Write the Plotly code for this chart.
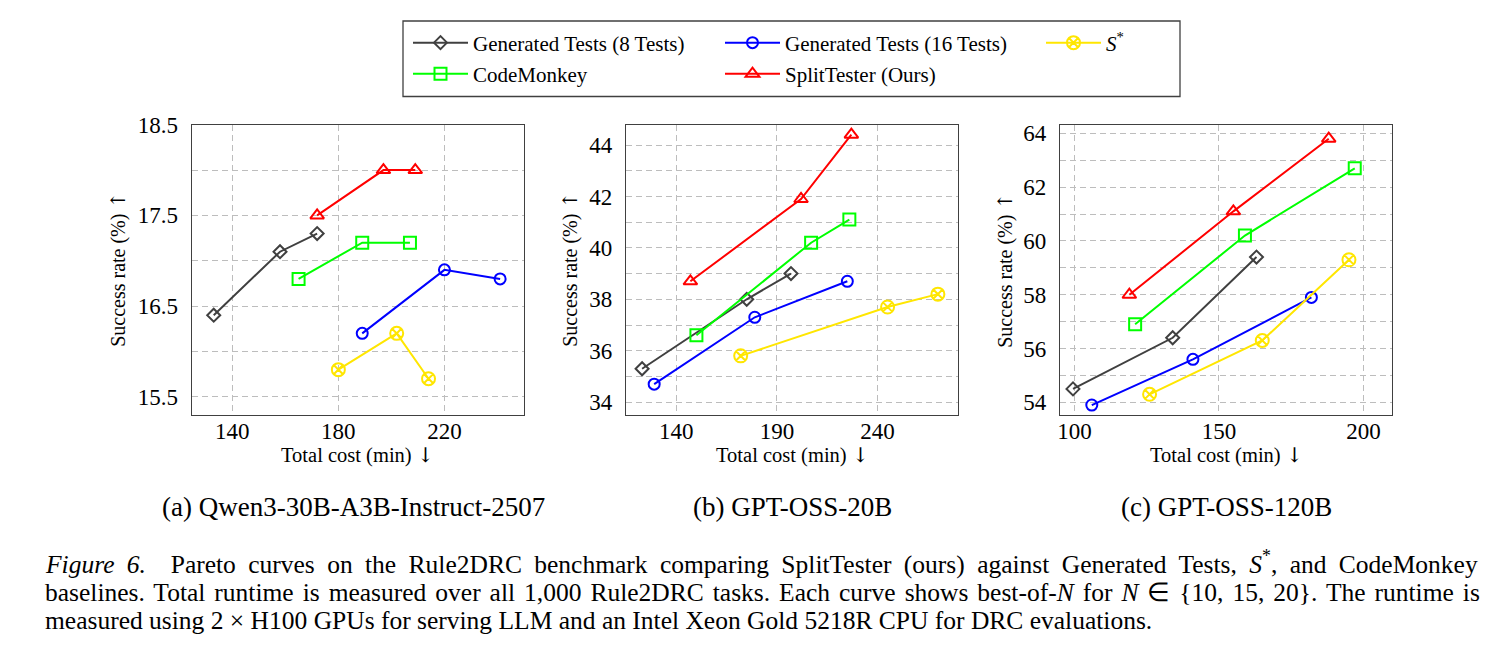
import plotly.graph_objects as go

W, H = 1492, 652

series_names = ["Generated Tests (8 Tests)", "Generated Tests (16 Tests)", "<i>S</i><sup>*</sup>",
                "CodeMonkey", "SplitTester (Ours)"]

# (a) Qwen3-30B-A3B-Instruct-2507
qwen_gen8_x = [133, 158, 172]
qwen_gen8_y = [16.4, 17.1, 17.3]
qwen_gen16_x = [189, 220, 241]
qwen_gen16_y = [16.2, 16.9, 16.8]
qwen_sstar_x = [180, 202, 214]
qwen_sstar_y = [15.8, 16.2, 15.7]
qwen_cm_x = [165, 189, 207]
qwen_cm_y = [16.8, 17.2, 17.2]
qwen_split_x = [172, 197, 209]
qwen_split_y = [17.5, 18.0, 18.0]

# (b) GPT-OSS-20B
g20_gen8_x = [123, 175, 197]
g20_gen8_y = [35.3, 38.0, 39.0]
g20_gen16_x = [129, 179, 225]
g20_gen16_y = [34.7, 37.3, 38.7]
g20_sstar_x = [172, 245, 270]
g20_sstar_y = [35.8, 37.7, 38.2]
g20_cm_x = [150, 207, 226]
g20_cm_y = [36.6, 40.2, 41.1]
g20_split_x = [147, 202, 227]
g20_split_y = [38.7, 41.9, 44.4]

# (c) GPT-OSS-120B
g120_gen8_x = [99.5, 134, 163]
g120_gen8_y = [54.5, 56.4, 59.4]
g120_gen16_x = [106, 141, 182]
g120_gen16_y = [53.9, 55.6, 57.9]
g120_sstar_x = [126, 165, 195]
g120_sstar_y = [54.3, 56.3, 59.3]
g120_cm_x = [121, 159, 197]
g120_cm_y = [56.9, 60.2, 62.7]
g120_split_x = [119, 155, 188]
g120_split_y = [58.0, 61.1, 63.8]

# tick values / labels
x1_ticks = [140, 180, 220]
y1_ticks = [15.5, 16.0, 16.5, 17.0, 17.5, 18.0, 18.5]
y1_labels = ["15.5", "", "16.5", "", "17.5", "", "18.5"]
x2_ticks = [140, 190, 240]
y2_ticks = [34, 35, 36, 37, 38, 39, 40, 41, 42, 43, 44]
y2_labels = ["34", "", "36", "", "38", "", "40", "", "42", "", "44"]
x3_ticks = [100, 150, 200]
y3_ticks = [54, 55, 56, 57, 58, 59, 60, 61, 62, 63, 64]
y3_labels = ["54", "", "56", "", "58", "", "60", "", "62", "", "64"]

subcaptions = ["(a) Qwen3-30B-A3B-Instruct-2507", "(b) GPT-OSS-20B", "(c) GPT-OSS-120B"]
ARROW = "<span style=\"font-family:'DejaVu Serif'\">%s</span>"
x_title = "Total cost (min) " + ARROW % "↓"
y_title = "Success rate (%) " + ARROW % "↑"
caption_lines = [
    "<i>Figure 6.</i>  Pareto curves on the Rule2DRC benchmark comparing SplitTester (ours) against Generated Tests, <i>S</i><sup>*</sup>, and CodeMonkey",
    "baselines. Total runtime is measured over all 1,000 Rule2DRC tasks. Each curve shows best-of-<i>N</i> for <i>N</i> ∈ {10, 15, 20}. The runtime is",
    "measured using 2 × H100 GPUs for serving LLM and an Intel Xeon Gold 5218R CPU for DRC evaluations.",
]
caption_wordspacing = [6, 2.6, 0]

colors = ["#404040", "#0000ff", "#ffe600", "#00ff00", "#ff0000"]
symbols = ["diamond-open", "circle-open", "circle-x-open", "square-open", "triangle-up-open"]
msizes = [10, 11, 13, 12, 12]
legend_ids = ["legend", "legend2", "legend3", "legend4", "legend5"]

panels = [
    [(qwen_gen8_x, qwen_gen8_y), (qwen_gen16_x, qwen_gen16_y), (qwen_sstar_x, qwen_sstar_y),
     (qwen_cm_x, qwen_cm_y), (qwen_split_x, qwen_split_y)],
    [(g20_gen8_x, g20_gen8_y), (g20_gen16_x, g20_gen16_y), (g20_sstar_x, g20_sstar_y),
     (g20_cm_x, g20_cm_y), (g20_split_x, g20_split_y)],
    [(g120_gen8_x, g120_gen8_y), (g120_gen16_x, g120_gen16_y), (g120_sstar_x, g120_sstar_y),
     (g120_cm_x, g120_cm_y), (g120_split_x, g120_split_y)],
]

fig = go.Figure()
for p, panel in enumerate(panels):
    ax = "" if p == 0 else str(p + 1)
    for s, (xs, ys) in enumerate(panel):
        fig.add_trace(go.Scatter(
            x=xs, y=ys, mode="lines+markers", name=series_names[s],
            xaxis="x" + ax, yaxis="y" + ax,
            line=dict(color=colors[s], width=2),
            marker=dict(symbol=symbols[s], size=msizes[s], color=colors[s],
                        line=dict(color=colors[s], width=2)),
            showlegend=(p == 0), legend=legend_ids[s],
        ))

FONT = "Liberation Serif"
x_domains = [(191.7, 524.0), (626.0, 958.0), (1060.0, 1392.3)]
y_dom = [1 - 415.0 / H, 1 - 124.7 / H]
x_ranges = [[124.7, 250.0], [115.0, 280.0], [95.0, 210.0]]
y_ranges = [[15.3, 18.5], [33.5, 44.79], [53.53, 64.32]]
xt = [x1_ticks, x2_ticks, x3_ticks]
yt = [y1_ticks, y2_ticks, y3_ticks]
yl = [y1_labels, y2_labels, y3_labels]

layout = dict(
    width=W, height=H, margin=dict(l=0, r=0, t=0, b=0, autoexpand=False),
    paper_bgcolor="white", plot_bgcolor="white",
    font=dict(family=FONT, size=20, color="black"),
)
common_ax = dict(showline=True, linecolor="#404040", linewidth=1.3, mirror=True,
                 showgrid=True, gridcolor="#bdbdbd", gridwidth=1, griddash="6px,4px",
                 ticks="", zeroline=False, automargin=False,
                 tickfont=dict(family=FONT, size=23, color="black"))
for p in range(3):
    ax = "" if p == 0 else str(p + 1)
    layout["xaxis" + ax] = dict(common_ax, domain=[x_domains[p][0] / W, x_domains[p][1] / W],
                                range=x_ranges[p], tickvals=xt[p], anchor="y" + ax,
                                ticklabelstandoff=-5)
    layout["yaxis" + ax] = dict(common_ax, domain=y_dom, range=y_ranges[p], tickvals=yt[p],
                                ticktext=yl[p], anchor="x" + ax, ticklabelstandoff=8)

# legends: one per entry, positioned on a 3-column grid
leg_pos = [(408, 43), (720, 43), (1041, 43), (408, 74), (720, 74)]
for i, lid in enumerate(legend_ids):
    layout[lid] = dict(x=leg_pos[i][0] / W, y=1 - leg_pos[i][1] / H, xanchor="left", yanchor="middle",
                       orientation="h", bgcolor="rgba(0,0,0,0)", borderwidth=0,
                       font=dict(family=FONT, size=21, color="black"), itemwidth=55)

fig.update_layout(**layout)

fig.add_shape(type="rect", xref="paper", yref="paper",
              x0=403 / W, x1=1180 / W, y0=1 - 96.5 / H, y1=1 - 21 / H,
              line=dict(color="#404040", width=1.3), fillcolor="rgba(0,0,0,0)")

ann = []
for p in range(3):
    cx = (x_domains[p][0] + x_domains[p][1]) / 2 / W
    ann.append(dict(text=x_title, x=cx, y=1 - 455 / H, xref="paper", yref="paper",
                    showarrow=False, font=dict(family=FONT, size=20.5), xanchor="center", yanchor="middle"))
    ann.append(dict(text=subcaptions[p], x=cx if p != 0 else 353 / W, y=1 - 507 / H, xref="paper", yref="paper",
                    showarrow=False, font=dict(family=FONT, size=27), xanchor="center", yanchor="middle"))
ytx = [118, 570, 1005]
for p in range(3):
    ann.append(dict(text=y_title, x=ytx[p] / W, y=(y_dom[0] + y_dom[1]) / 2, xref="paper", yref="paper",
                    showarrow=False, textangle=-90, font=dict(family=FONT, size=20),
                    xanchor="center", yanchor="middle"))
cap_y = [562, 592, 620]
for i, line in enumerate(caption_lines):
    txt = line if caption_wordspacing[i] == 0 else \
        "<span style=\"word-spacing:%.1fpx\">%s</span>" % (caption_wordspacing[i], line)
    ann.append(dict(text=txt, x=43 / W, y=1 - cap_y[i] / H, xref="paper", yref="paper",
                    showarrow=False, font=dict(family=FONT, size=25.5), xanchor="left", yanchor="middle"))
fig.update_layout(annotations=ann)

fig.write_html("out.html")
